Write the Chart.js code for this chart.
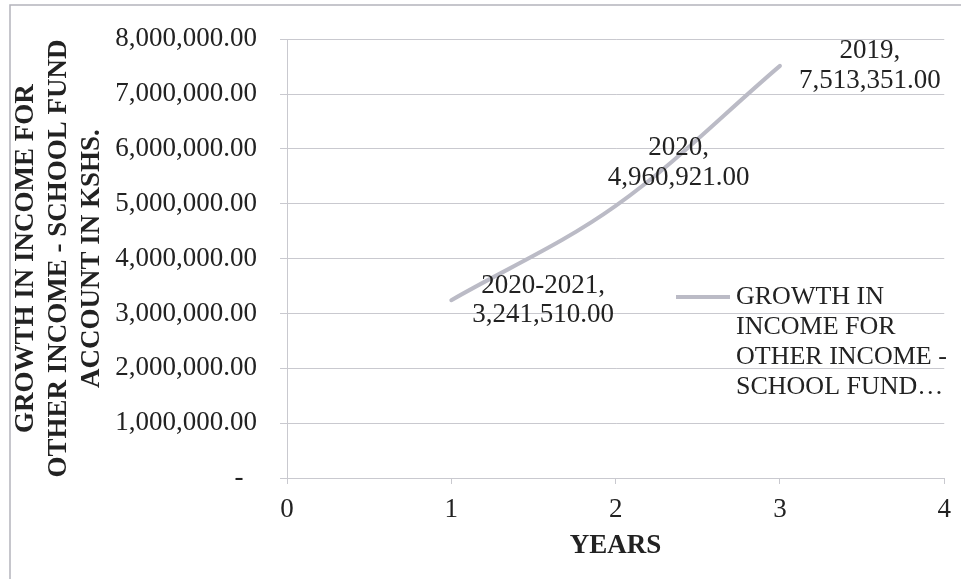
<!DOCTYPE html>
<html>
<head>
<meta charset="utf-8">
<script src="https://cdn.jsdelivr.net/npm/chart.js@4"></script>
<style>
  html, body { margin: 0; padding: 0; background: #fff; }
  #wrap { width: 961px; height: 579px; }
</style>
</head>
<body>
<div id="wrap"><canvas id="chart" width="961" height="579"></canvas></div>
<script>
// chart data
const yearLabels = ['2020-2021', '2020', '2019'];
const xValues = [1, 2, 3];
const incomeValues = [3241510, 4960921, 7513351];
const seriesName = 'GROWTH IN INCOME FOR OTHER INCOME - SCHOOL FUND ACCOUNT IN KSHS.';
const legendLines = ['GROWTH IN', 'INCOME FOR', 'OTHER INCOME -', 'SCHOOL FUND\u2026'];

const FONT = '"Liberation Serif", "Times New Roman", serif';
const INK = '#222222';
const GRID = '#c9c9cf';
const LINE = '#bbbbc6';

function money(v) {
    if (v === 0) return '-  ';
    return v.toLocaleString('en-US', { minimumFractionDigits: 2, maximumFractionDigits: 2 });
}

// where each data label sits relative to its point
const labelPlacement = [
    { dx: 21, dy: 0, align: 'left' },
    { dx: 63, dy: -43, align: 'center' },
    { dx: 19, dy: 0, align: 'left' }
];

const decorations = {
    id: 'decorations',
    beforeDraw(chart) {
        const ctx = chart.ctx;
        ctx.save();
        ctx.strokeStyle = '#b4b4bc';
        ctx.lineWidth = 1.5;
        ctx.beginPath();
        ctx.moveTo(10, 579);
        ctx.lineTo(10, 5);
        ctx.lineTo(961, 5);
        ctx.stroke();
        ctx.restore();
    },
    afterDatasetsDraw(chart) {
        const ctx = chart.ctx;
        const meta = chart.getDatasetMeta(0);
        ctx.save();
        ctx.font = '27px ' + FONT;
        ctx.fillStyle = INK;
        ctx.textBaseline = 'middle';
        meta.data.forEach((pt, i) => {
            const p = labelPlacement[i];
            const lines = [yearLabels[i] + ',', money(incomeValues[i])];
            const blockW = Math.max(...lines.map(s => ctx.measureText(s).width));
            let left = pt.x + p.dx;
            if (p.align === 'center') left = pt.x + p.dx - blockW / 2;
            lines.forEach((l, j) => {
                const w = ctx.measureText(l).width;
                ctx.fillText(l, left + (blockW - w) / 2, pt.y + p.dy + (j - 0.5) * 29.5);
            });
        });

        // legend inside the plot
        const lx = 676, ly = 297;
        ctx.strokeStyle = LINE;
        ctx.lineWidth = 4;
        ctx.beginPath();
        ctx.moveTo(lx, ly);
        ctx.lineTo(lx + 54, ly);
        ctx.stroke();
        ctx.font = '26px ' + FONT;
        ctx.textAlign = 'left';
        legendLines.forEach((t, j) => {
            ctx.fillText(t, lx + 60, ly + j * 30);
        });
        ctx.restore();
    }
};

new Chart(document.getElementById('chart'), {
    type: 'line',
    data: {
        datasets: [{
            label: seriesName,
            data: xValues.map((x, i) => ({ x: x, y: incomeValues[i] })),
            borderColor: LINE,
            borderWidth: 4,
            borderCapStyle: 'round',
            pointRadius: 0,
            tension: 0.35,
            fill: false
        }]
    },
    options: {
        responsive: false,
        animation: false,
        layout: { padding: { left: 0, right: 16, top: 35, bottom: 0 } },
        plugins: {
            legend: { display: false },
            tooltip: { enabled: false }
        },
        scales: {
            x: {
                type: 'linear',
                min: 0,
                max: 4,
                afterFit: s => { s.height = 101; },
                ticks: { stepSize: 1, color: INK, padding: 10, font: { family: FONT, size: 27 } },
                grid: { drawOnChartArea: false, drawTicks: true, tickLength: 6, color: GRID },
                border: { color: GRID, width: 1 },
                title: {
                    display: true,
                    text: 'YEARS',
                    color: INK,
                    padding: { top: 0, bottom: 17 },
                    font: { family: FONT, size: 27, weight: 'bold' }
                }
            },
            y: {
                min: 0,
                max: 8000000,
                afterFit: s => { s.width = 287; },
                ticks: {
                    stepSize: 1000000,
                    color: INK,
                    padding: 23,
                    font: { family: FONT, size: 27 },
                    callback: v => money(v)
                },
                grid: { color: GRID, tickLength: 7 },
                border: { color: GRID, width: 1 },
                title: {
                    display: true,
                    text: ['GROWTH IN INCOME FOR', 'OTHER INCOME - SCHOOL FUND', 'ACCOUNT IN KSHS.'],
                    color: INK,
                    padding: { top: 10, bottom: 0 },
                    font: { family: FONT, size: 27, weight: 'bold', lineHeight: 1.22 }
                }
            }
        }
    },
    plugins: [decorations]
});
</script>
</body>
</html>
